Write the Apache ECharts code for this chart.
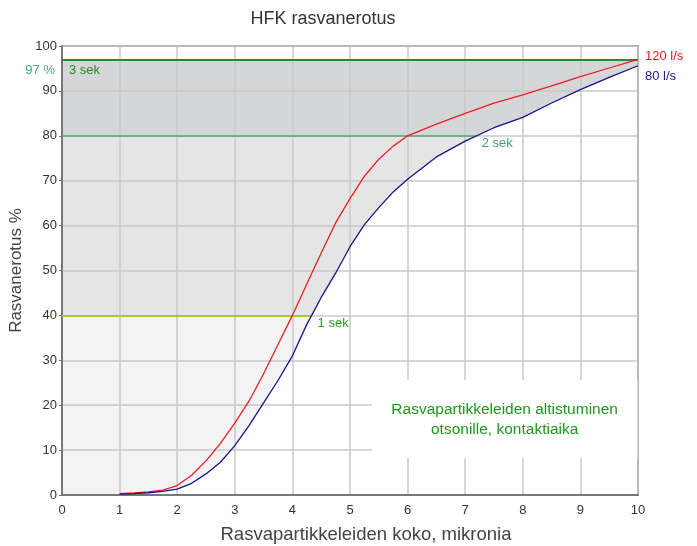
<!DOCTYPE html>
<html>
<head>
<meta charset="utf-8">
<script src="https://cdn.jsdelivr.net/npm/echarts@6/dist/echarts.min.js"></script>
<style>
html,body{margin:0;padding:0;background:#fff;}
#chart{width:697px;height:546px;}
</style>
</head>
<body>
<div id="chart"></div>
<script>
// particle size, microns
const sizes = [1, 1.25, 1.5, 1.75, 2, 2.25, 2.5, 2.75, 3, 3.25, 3.5, 3.75, 4, 4.25, 4.5, 4.75, 5, 5.25, 5.5, 5.75, 6, 6.5, 7, 7.5, 8, 8.5, 9, 9.5, 10];
// grease separation %, 120 l/s
const sep120 = [0.3, 0.45, 0.7, 1.1, 2.1, 4.4, 7.6, 11.5, 16, 21, 27, 33.5, 40, 47, 53.9, 60.6, 66, 71, 74.8, 77.7, 80, 82.6, 85, 87.3, 89.1, 91.1, 93.2, 95.1, 97];
// grease separation %, 80 l/s
const sep80 = [0.2, 0.3, 0.5, 0.8, 1.3, 2.6, 4.7, 7.3, 11, 15.5, 20.5, 25.5, 31, 38, 44, 49.4, 55.3, 60.2, 64, 67.5, 70.3, 75.3, 78.8, 81.8, 84.1, 87.3, 90.3, 93, 95.6];
// contact-time levels
const levels = [40, 80, 97];
const levelNames = ['1 sek', '2 sek', '3 sek'];
const bandLow = [0, 40, 80];
const bandHigh = [40, 80, 97];
const xTicks = [0, 10];
const yTicks = [0, 100];

const bandColors = ['#f3f3f3', '#e5e5e5', '#d5d6d8'];
const levelColors = ['#a7cb2c', '#4aa874', '#2a8a2a'];
const labelColors = ['#2a9a2a', '#3aa46a', '#2a8a2a'];

function blueCross(y) {
  for (let i = 1; i < sizes.length; i++) {
    if (sep80[i] >= y) {
      const t = (y - sep80[i - 1]) / (sep80[i] - sep80[i - 1]);
      return sizes[i - 1] + t * (sizes[i] - sizes[i - 1]);
    }
  }
  return sizes[sizes.length - 1];
}
const levelEnds = levels.map((v, i) => i === levels.length - 1 ? xTicks[1] : blueCross(v));

const pts120 = sizes.map((x, i) => [x, sep120[i]]);
const pts80 = sizes.map((x, i) => [x, sep80[i]]);

const chart = echarts.init(document.getElementById('chart'));
const font = '"Liberation Sans", Arial, sans-serif';

chart.setOption({
  animation: false,
  textStyle: { fontFamily: font },
  title: {
    text: 'HFK rasvanerotus', left: 318, top: 5, textAlign: 'center',
    textStyle: { fontFamily: font, fontSize: 18, fontWeight: 'normal', color: '#333' }
  },
  grid: { left: 62, right: 59, top: 46, bottom: 51, outerBoundsMode: 'none', containLabel: false,
          show: true, borderColor: '#8a8a8a', borderWidth: 2, z: 3 },
  xAxis: {
    type: 'value', min: xTicks[0], max: xTicks[1], interval: 1, z: 3,
    name: 'Rasvapartikkeleiden koko, mikronia', nameLocation: 'middle', nameGap: 30,
    nameTextStyle: { fontFamily: font, fontSize: 18.5, color: '#444', padding: [0, 0, 0, 32] },
    axisLine: { lineStyle: { color: '#777', width: 2 } },
    axisTick: { show: false },
    axisLabel: { color: '#333', fontSize: 13, margin: 9, fontFamily: font },
    splitLine: { lineStyle: { color: '#c9c9c9', width: 1.5 } }
  },
  yAxis: {
    type: 'value', min: yTicks[0], max: yTicks[1], interval: 10, z: 3,
    name: 'Rasvanerotus %', nameLocation: 'middle', nameGap: 35,
    nameTextStyle: { fontFamily: font, fontSize: 17, color: '#444' },
    axisLine: { show: true, lineStyle: { color: '#777', width: 2 } },
    axisTick: { show: true, length: 3, lineStyle: { color: '#777' } },
    axisLabel: { color: '#333', fontSize: 13, margin: 5, fontFamily: font },
    splitLine: { lineStyle: { color: '#c9c9c9', width: 1.5 } }
  },
  series: [
    {
      type: 'line', data: [], z: 1,
      markArea: {
        silent: true, z: 1,
        data: bandLow.map((lo, i) => [
          { xAxis: xTicks[0], yAxis: lo, itemStyle: { color: bandColors[i], opacity: 1 } },
          { xAxis: xTicks[1], yAxis: bandHigh[i] }
        ])
      }
    },
    {
      type: 'line', data: pts80, z: 2, showSymbol: false, silent: true,
      lineStyle: { width: 0 },
      areaStyle: { color: '#ffffff', opacity: 1, origin: 'start' }
    },
    {
      type: 'line', data: [], z: 4,
      markLine: {
        silent: true, symbol: 'none', z: 4,
        label: { show: false },
        data: levels.map((v, i) => [
          { coord: [xTicks[0], v], lineStyle: { color: levelColors[i], width: i === 1 ? 1.5 : 2, type: 'solid' } },
          { coord: [levelEnds[i], v] }
        ])
      }
    },
    {
      name: '120 l/s', type: 'line', data: pts120, z: 5, showSymbol: false,
      lineStyle: { color: '#ee1c24', width: 1.3 }
    },
    {
      name: '80 l/s', type: 'line', data: pts80, z: 5, showSymbol: false,
      lineStyle: { color: '#16168a', width: 1.3 }
    }
  ]
});

// text annotations placed through the chart's own scales
const p97 = chart.convertToPixel({ gridIndex: 0 }, [xTicks[0], levels[2]]);
const p1 = chart.convertToPixel({ gridIndex: 0 }, [levelEnds[0], levels[0]]);
const p2 = chart.convertToPixel({ gridIndex: 0 }, [levelEnds[1], levels[1]]);
const r120 = chart.convertToPixel({ gridIndex: 0 }, [sizes[sizes.length - 1], sep120[sep120.length - 1]]);
const r80 = chart.convertToPixel({ gridIndex: 0 }, [sizes[sizes.length - 1], sep80[sep80.length - 1]]);
const boxTL = chart.convertToPixel({ gridIndex: 0 }, [5.38, 25.6]);
const boxBR = chart.convertToPixel({ gridIndex: 0 }, [9.99, 8.2]);

const txt = (x, y, s, color, align, size) => ({
  type: 'text', x: x, y: y, z: 20,
  style: { text: s, fill: color, font: (size || 13) + 'px ' + font, textAlign: align || 'left', textVerticalAlign: 'middle' }
});

chart.setOption({
  graphic: [
    txt(p97[0] - 7, p97[1] + 11, '97 %', '#4aa870', 'right'),
    txt(p97[0] + 7, p97[1] + 11, levelNames[2], labelColors[2], 'left'),
    txt(p2[0] + 5, p2[1] + 8, levelNames[1], labelColors[1], 'left'),
    txt(p1[0] + 6, p1[1] + 8, levelNames[0], labelColors[0], 'left'),
    txt(r120[0] + 7, r120[1] - 3, '120 l/s', '#e8161c', 'left'),
    txt(r80[0] + 7, r80[1] + 11, '80 l/s', '#20208a', 'left'),
    {
      type: 'rect', z: 15,
      shape: { x: boxTL[0], y: boxTL[1], width: boxBR[0] - boxTL[0], height: boxBR[1] - boxTL[1] },
      style: { fill: '#ffffff' }
    },
    {
      type: 'text', z: 20,
      x: (boxTL[0] + boxBR[0]) / 2, y: (boxTL[1] + boxBR[1]) / 2 + 1,
      style: {
        text: 'Rasvapartikkeleiden altistuminen\notsonille, kontaktiaika',
        fill: '#1a9a1a', font: '15.5px ' + font, textAlign: 'center', textVerticalAlign: 'middle', lineHeight: 20
      }
    }
  ]
});
</script>
</body>
</html>
